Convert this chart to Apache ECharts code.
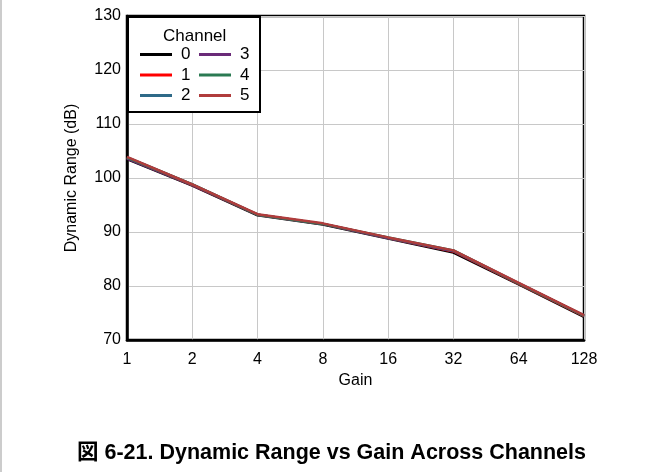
<!DOCTYPE html>
<html>
<head>
<meta charset="utf-8">
<script src="https://cdn.jsdelivr.net/npm/echarts@6/dist/echarts.min.js"></script>
<style>html,body{margin:0;padding:0;background:#fff;}#c{width:663px;height:472px;}</style>
</head>
<body>
<div id="c"></div>
<script>
const gains = ['1', '2', '4', '8', '16', '32', '64', '128'];
const channelNames = ['0', '1', '2', '3', '4', '5'];
const ch0 = [103.5, 98.6, 93.1, 91.4, 88.8, 86.2, 80.3, 74.3];
const ch1 = [103.7, 98.7, 93.2, 91.5, 88.9, 86.4, 80.4, 74.4];
const ch2 = [103.8, 98.8, 93.2, 91.5, 88.9, 86.5, 80.5, 74.5];
const ch3 = [103.6, 98.7, 93.2, 91.5, 88.9, 86.5, 80.5, 74.5];
const ch4 = [103.8, 98.8, 93.2, 91.5, 89.0, 86.6, 80.5, 74.5];
const ch5 = [103.9, 98.8, 93.3, 91.6, 89.0, 86.6, 80.6, 74.6];
const channelData = [ch0, ch1, ch2, ch3, ch4, ch5];
const colors = ['#000000', '#ff0000', '#2f6a88', '#6a2a78', '#2a7a52', '#b03c3c'];

const font = 'Liberation Sans, Arial, Noto Sans CJK JP, sans-serif';
const legendText = {fontFamily: font, fontSize: 17, color: '#000', lineHeight: 16, padding: [0, 0, 0, 4]};
const chart = echarts.init(document.getElementById('c'));
chart.setOption({
  animation: false,
  color: colors,
  textStyle: {fontFamily: font},
  grid: {left: 127, right: 79, top: 16, bottom: 132, show: true, borderColor: '#000', borderWidth: 2.5, backgroundColor: 'transparent'},
  title: {
    text: '図 6-21. Dynamic Range vs Gain Across Channels',
    left: 'center', top: 437,
    textStyle: {fontFamily: font, fontSize: 21.5, fontWeight: 'bold', color: '#000'}
  },
  legend: [
    {data: channelNames.slice(0, 3), orient: 'vertical', left: 140, top: 46,
     itemWidth: 32, itemHeight: 3, itemGap: 3.5, icon: 'rect', textStyle: legendText, padding: 0, z: 60},
    {data: channelNames.slice(3), orient: 'vertical', left: 199, top: 46,
     itemWidth: 32, itemHeight: 3, itemGap: 3.5, icon: 'rect', textStyle: legendText, padding: 0, z: 60}
  ],
  xAxis: {
    type: 'category', data: gains, boundaryGap: false,
    name: 'Gain', nameLocation: 'middle', nameGap: 32,
    nameTextStyle: {fontFamily: font, fontSize: 16, color: '#000'},
    axisLine: {lineStyle: {color: '#000', width: 2.5}},
    axisTick: {show: false},
    axisLabel: {fontFamily: font, fontSize: 16, color: '#000', margin: 12},
    splitLine: {show: true, lineStyle: {color: '#c8c8c8', width: 1}}
  },
  yAxis: {
    type: 'value', min: 70, max: 130, interval: 10,
    name: 'Dynamic Range (dB)', nameLocation: 'middle', nameGap: 47,
    nameTextStyle: {fontFamily: font, fontSize: 16, color: '#000'},
    axisLine: {show: true, lineStyle: {color: '#000', width: 2.5}},
    axisTick: {show: false},
    axisLabel: {fontFamily: font, fontSize: 16, color: '#000', margin: 6},
    splitLine: {show: true, lineStyle: {color: '#c8c8c8', width: 1}}
  },
  graphic: [
    {type: 'rect', left: 127, top: 16, shape: {width: 132, height: 95}, style: {fill: '#fff', stroke: '#000', lineWidth: 2}, z: 50},
    {type: 'text', left: 163, top: 28, style: {text: 'Channel', font: '17px ' + font, fill: '#000'}, z: 51},
    {type: 'line', shape: {x1: 1, y1: 0, x2: 1, y2: 472}, style: {stroke: '#999', lineWidth: 1}}
  ],
  series: channelNames.map((n, i) => ({
    name: n, type: 'line', data: channelData[i], showSymbol: false, symbol: 'none',
    lineStyle: {width: 2.5, color: colors[i]}, z: 2 + i
  }))
});
</script>
</body>
</html>
